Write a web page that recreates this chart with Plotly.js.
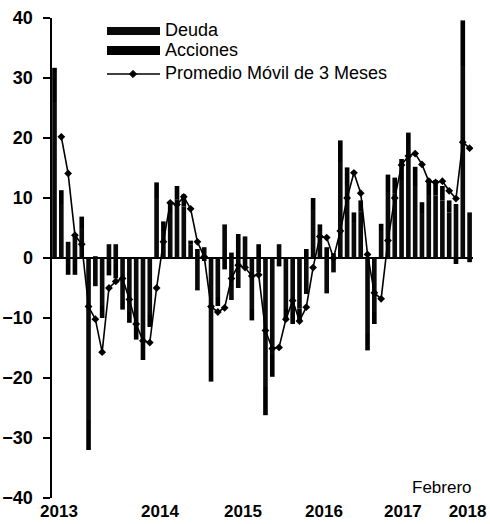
<!DOCTYPE html>
<html>
<head>
<meta charset="utf-8">
<script src="https://cdn.plot.ly/plotly-3.0.1.min.js"></script>
<style>html,body{margin:0;padding:0;background:#fff}#chart{width:490px;height:524px}</style>
</head>
<body>
<div id="chart"></div>
<script>
// Meses: enero 2013 a febrero 2018
const months = [
 '2013-01','2013-02','2013-03','2013-04','2013-05','2013-06','2013-07','2013-08','2013-09','2013-10','2013-11','2013-12',
 '2014-01','2014-02','2014-03','2014-04','2014-05','2014-06','2014-07','2014-08','2014-09','2014-10','2014-11','2014-12',
 '2015-01','2015-02','2015-03','2015-04','2015-05','2015-06','2015-07','2015-08','2015-09','2015-10','2015-11','2015-12',
 '2016-01','2016-02','2016-03','2016-04','2016-05','2016-06','2016-07','2016-08','2016-09','2016-10','2016-11','2016-12',
 '2017-01','2017-02','2017-03','2017-04','2017-05','2017-06','2017-07','2017-08','2017-09','2017-10','2017-11','2017-12',
 '2018-01','2018-02'
];
const deuda = [
 26.0, 9.0, 2.7, 4.0, 5.0, -27.0, -4.7, -8.0, 2.3, 2.3, -7.0, -9.0,
 -11.0, -14.0, -9.5, 10.0, 4.5, 7.5, 9.8, 8.6, 2.2, -5.4, 1.8, -17.0,
 -6.5, 5.6, -7.0, -5.0, 3.6, -8.5, -2.4, -21.5, -16.0, 2.3, -8.5, -9.0,
 -8.4, -6.0, 8.0, 4.5, -5.9, -2.4, 16.0, 12.0, 6.0, 7.8, -12.5, -9.0,
 4.5, 11.0, 10.8, 13.0, 17.0, 12.0, 7.5, 10.5, 10.4, 9.6, 7.6, 9.0,
 32.0, 7.6
];
const acciones = [
 5.7, 2.3, -2.8, -2.8, 1.9, -5.0, 0.3, -2.0, -2.9, -3.4, -1.6, -1.8,
 -2.6, -3.0, -2.0, 2.6, 1.6, 1.9, 2.2, 2.0, 0.7, 1.5, -0.5, -3.6,
 -1.5, -1.9, 0.9, 4.0, -1.6, -1.9, 2.3, -4.7, -3.8, -1.4, -2.0, -2.0,
 -2.0, 1.5, 2.0, 1.1, 1.8, 0.8, 3.6, 3.1, 1.6, 1.8, -2.9, -2.0,
 1.2, 2.9, 2.6, 3.5, 3.9, 3.2, 1.8, 2.7, 2.6, 2.4, 2.0, -1.0,
 7.6, -0.7
];
const promedio = [
 null, 20.2, 14.1, 3.8, 2.3, -8.1, -10.2, -15.7, -5.0, -3.9, -3.4, -6.9,
 -11.0, -13.8, -14.1, -5.0, 2.7, 9.2, 8.9, 10.2, 8.2, 2.7, 0.2, -8.1,
 -9.0, -8.3, -3.4, -1.2, -1.6, -3.0, -2.8, -12.1, -15.1, -14.9, -10.2, -7.1,
 -10.5, -8.2, -1.6, 3.6, 3.4, 0.0, 4.5, 10.0, 14.2, 10.8, 0.6, -5.8,
 -6.8, 2.9, 10.0, 15.5, 17.0, 17.4, 15.6, 12.8, 12.6, 12.8, 11.2, 9.9,
 19.3, 18.3
];
const yearLabels = ['2013','2014','2015','2016','2017','2018'];
const yearLabelPos = [0.66, 15.5, 27.7, 39.6, 51.2, 60.7];
const seriesNames = ['Deuda','Acciones','Promedio Móvil de 3 Meses'];

const idx = months.map((m, i) => i);

// plot area geometry (pixels) for legend placement
const W = 490, H = 524, L = 52, R = 17, T = 18, B = 26;
const pw = W - L - R, ph = H - T - B;
const px = x => (x - L) / pw;
const py = y => (H - B - y) / ph;

const traces = [
  {type:'bar', name:seriesNames[0], x:idx, y:deuda, hovertext:months, hoverinfo:'text+y', textposition:'none',
   marker:{color:'#0a0a0a', line:{width:0}}, width:0.68, showlegend:false},
  {type:'bar', name:seriesNames[1], x:idx, y:acciones, hovertext:months, hoverinfo:'text+y', textposition:'none',
   marker:{color:'#000000', line:{width:0}}, width:0.68, showlegend:false},
  {type:'scatter', mode:'lines+markers', name:seriesNames[2], x:idx, y:promedio, hovertext:months,
   line:{color:'#000', width:1.6}, marker:{symbol:'diamond', size:6, color:'#000'},
   connectgaps:false, showlegend:false}
];

const lf = {family:'Liberation Sans, Arial, sans-serif', size:18, color:'#000'};
const dx = 3.6 / pw, dy = 3.6 / ph;
const dcx = px(133), dcy = py(74);

const layout = {
  width: W, height: H,
  margin: {l:L, r:R, t:T, b:B, pad:0},
  paper_bgcolor:'#fff', plot_bgcolor:'#fff',
  barmode:'relative', bargap:0.3,
  showlegend:false,
  xaxis: {
    range:[-0.37, 61.5], showgrid:false, zeroline:false, showline:false,
    tickmode:'array', tickvals:yearLabelPos, ticktext:yearLabels, ticks:'',
    tickfont:{family:'Liberation Sans, Arial, sans-serif', size:17, color:'#000', weight:'bold'},
    ticklabelstandoff:1
  },
  yaxis: {
    range:[-40, 40], showgrid:false, zeroline:true, zerolinecolor:'#000', zerolinewidth:2,
    showline:true, linecolor:'#000', linewidth:2.5, mirror:false,
    ticks:'outside', ticklen:7, tickwidth:2, tickcolor:'#000',
    tickvals:[-40,-30,-20,-10,0,10,20,30,40],
    tickfont:{family:'Liberation Sans, Arial, sans-serif', size:18, color:'#000', weight:'bold'},
    ticklabelstandoff:6
  },
  shapes: [
    {type:'rect', xref:'paper', yref:'paper', x0:px(107), x1:px(160), y0:py(35), y1:py(27),
     fillcolor:'#0a0a0a', line:{width:0}},
    {type:'rect', xref:'paper', yref:'paper', x0:px(107), x1:px(160), y0:py(55), y1:py(46),
     fillcolor:'#000', line:{width:0}},
    {type:'line', xref:'paper', yref:'paper', x0:px(107), x1:px(160), y0:py(74), y1:py(74),
     line:{color:'#000', width:1.6}},
    {type:'path', xref:'paper', yref:'paper',
     path:`M ${dcx-dx} ${dcy} L ${dcx} ${dcy+dy} L ${dcx+dx} ${dcy} L ${dcx} ${dcy-dy} Z`,
     fillcolor:'#000', line:{color:'#000', width:1}}
  ],
  annotations: [
    {xref:'paper', yref:'paper', x:px(163), y:py(30), xanchor:'left', yanchor:'middle',
     text:seriesNames[0], showarrow:false, font:lf},
    {xref:'paper', yref:'paper', x:px(163), y:py(50), xanchor:'left', yanchor:'middle',
     text:seriesNames[1], showarrow:false, font:lf},
    {xref:'paper', yref:'paper', x:px(163), y:py(73), xanchor:'left', yanchor:'middle',
     text:seriesNames[2], showarrow:false, font:lf},
    {xref:'paper', yref:'paper', x:px(441.5), y:py(487), xanchor:'center', yanchor:'middle',
     text:'Febrero', showarrow:false, font:{family:'Liberation Sans, Arial, sans-serif', size:17, color:'#000'}}
  ]
};

Plotly.newPlot('chart', traces, layout, {displayModeBar:false, staticPlot:true});
</script>
</body>
</html>
